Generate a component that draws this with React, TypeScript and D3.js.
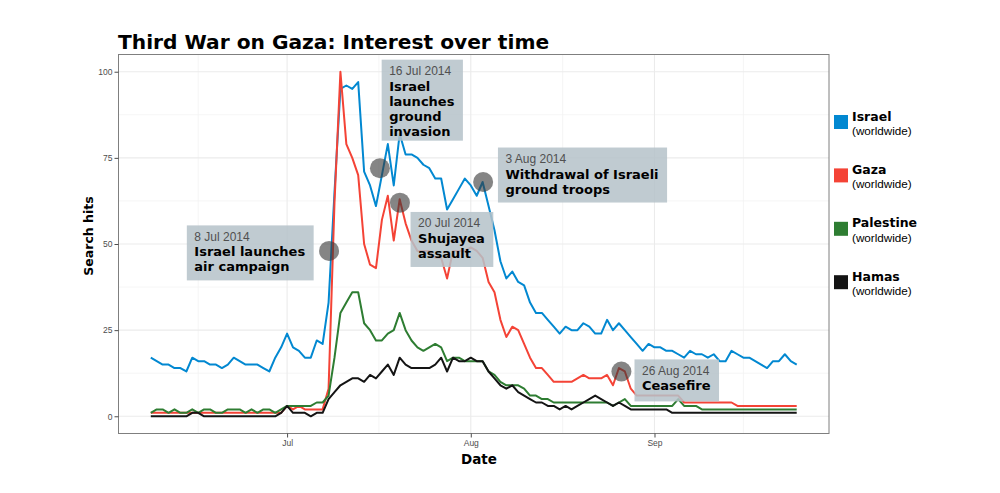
import { useEffect, useRef } from "react";
import * as d3 from "d3";

// daily search interest, 8 Jun 2014 .. 25 Sep 2014
const firstDay = "2014-06-08";
const lastDay = "2014-09-25";

const israel = [
  17, 16, 15, 15, 14, 14, 13, 17, 16, 16, 15, 15, 14, 15, 17, 16, 15, 15, 15, 14, 13, 17, 20,
  24,
  20, 19, 17, 17, 22, 21, 33, 65,
  95, 96, 95, 97, 71, 67, 61, 70, 79, 67, 82,
  76, 76, 75, 73, 72, 69, 69, 60, 63, 66, 69, 67, 64,
  68, 61, 54, 45, 40, 42, 39, 38, 33, 30, 30, 28, 26,
  24, 26, 25, 25, 27, 26, 24, 24, 28, 25, 27, 25, 23, 21,
  19, 21, 20, 20, 19, 19, 18, 17, 19, 18, 18, 17, 18, 16,
  16, 19, 18, 17, 17, 16, 15, 14, 16, 16, 18, 16, 15,
];
const gaza = [
  1, 1, 1, 1, 1, 1, 1, 1, 1, 1, 1, 1, 1, 1, 1, 1, 1, 1, 1, 1, 1, 1, 1,
  3,
  2, 3, 2, 2, 2, 2, 8, 62,
  100, 79, 75, 70, 50, 44, 43, 57, 64, 51, 63,
  56, 51, 48, 48, 48, 46, 46, 40, 48, 48, 48, 49, 48,
  46, 39, 36, 28, 23, 26, 25, 21, 17, 14, 14, 12, 10,
  10, 10, 10, 11, 12, 11, 11, 11, 12, 9, 14, 13, 8, 6,
  6, 6, 6, 6, 6, 6, 6, 4, 4, 4, 4, 4, 4, 4,
  4, 4, 3, 3, 3, 3, 3, 3, 3, 3, 3, 3, 3,
];
const palestine = [
  1, 2, 2, 1, 2, 1, 1, 2, 1, 2, 2, 1, 1, 2, 2, 2, 1, 2, 1, 2, 2, 1, 2,
  3,
  3, 3, 3, 3, 4, 4, 6, 17,
  30, 33, 36, 36, 27, 25, 22, 22, 24, 25, 30,
  25, 22, 20, 19, 20, 21, 20, 16, 17, 17, 16, 16, 16,
  16, 13, 12, 10, 9, 9, 9, 8, 6, 6, 5, 5, 4,
  4, 4, 4, 4, 4, 4, 4, 4, 4, 3, 4, 5, 3, 3,
  3, 3, 3, 3, 3, 3, 5, 3, 3, 3, 2, 2, 2, 2,
  2, 2, 2, 2, 2, 2, 2, 2, 2, 2, 2, 2, 2,
];
const hamas = [
  0, 0, 0, 0, 0, 0, 0, 1, 1, 0, 0, 0, 0, 0, 0, 0, 0, 0, 0, 0, 0, 0, 1,
  3,
  1, 1, 1, 0, 1, 1, 5, 7,
  9, 10, 11, 11, 10, 12, 11, 13, 15, 12, 17,
  15, 14, 14, 14, 14, 15, 17, 13, 17, 16, 16, 17, 16,
  16, 13, 11, 9, 8, 9, 7, 6, 5, 4, 4, 3, 3,
  2, 3, 2, 3, 4, 5, 6, 5, 4, 3, 4, 3, 2, 2,
  2, 2, 2, 2, 2, 1, 1, 1, 1, 1, 1, 1, 1, 1,
  1, 1, 1, 1, 1, 1, 1, 1, 1, 1, 1, 1, 1,
];

const seriesNames = ["Israel", "Gaza", "Palestine", "Hamas"];
const seriesValues = [israel, gaza, palestine, hamas];
const seriesColors = ["#0288d1", "#f44336", "#2e7d32", "#141414"];

const yTicks = [0, 25, 50, 75, 100];
const monthTicks = ["2014-07-01", "2014-08-01", "2014-09-01"];
const monthLabels = ["Jul", "Aug", "Sep"];

// event markers (date + value on the curve) and label boxes (top-left, data space)
const eventDates = ["2014-07-08T02:00", "2014-07-16T16:00", "2014-07-20T01:00", "2014-08-03T02:00", "2014-08-26T10:00"];
const eventValues = [48, 72, 62, 68, 13];
const eventTitles = ["8 Jul 2014", "16 Jul 2014", "20 Jul 2014", "3 Aug 2014", "26 Aug 2014"];
const eventTexts = [
  ["Israel launches", "air campaign"],
  ["Israel", "launches", "ground", "invasion"],
  ["Shujayea", "assault"],
  ["Withdrawal of Israeli", "ground troops"],
  ["Ceasefire"],
];
const labelDates = ["2014-06-14T02:00", "2014-07-16T23:00", "2014-07-21T20:00", "2014-08-05T14:00", "2014-08-28T15:00"];
const labelValues = [55.4, 103.5, 59.3, 78, 16.5];

const W = 1000;
const H = 493;
const margin = { top: 54.5, right: 171, bottom: 59.5, left: 118.5 };
const BOLD = "'DejaVu Sans', sans-serif";
const PLAIN = "'Liberation Sans', Arial, sans-serif";

export default function App() {
  const ref = useRef<SVGSVGElement>(null);

  useEffect(() => {
    document.body.style.margin = "0";
    const svg = d3.select(ref.current);
    svg.selectAll("*").remove();

    const parseDay = d3.timeParse("%Y-%m-%d");
    const parseTime = d3.timeParse("%Y-%m-%dT%H:%M");
    const start = parseDay(firstDay)!;
    const end = parseDay(lastDay)!;
    const days = d3.timeDay.range(start, d3.timeDay.offset(end, 1));
    const span = +end - +start;

    const x = d3
      .scaleTime()
      .domain([new Date(+start - span * 0.05), new Date(+end + span * 0.05)])
      .range([margin.left, W - margin.right]);
    const y = d3
      .scaleLinear()
      .domain([-5, 105])
      .range([H - margin.bottom, margin.top]);

    svg.append("rect").attr("width", W).attr("height", H).attr("fill", "#fff");

    // title
    svg
      .append("text")
      .text("Third War on Gaza: Interest over time")
      .attr("x", 118)
      .attr("y", 49)
      .attr("font-family", BOLD)
      .attr("font-weight", "bold")
      .attr("font-size", 20.2)
      .attr("fill", "#000");

    const panel = svg.append("g");
    panel
      .append("rect")
      .attr("x", margin.left)
      .attr("y", margin.top)
      .attr("width", W - margin.left - margin.right)
      .attr("height", H - margin.top - margin.bottom)
      .attr("fill", "#fff");

    // grid
    const monthDates = monthTicks.map((m) => parseDay(m)!);
    const monthEdges = d3.timeMonth.range(d3.timeMonth.floor(start), d3.timeMonth.offset(d3.timeMonth.floor(end), 2));
    const minorX = d3
      .pairs(monthEdges)
      .map(([a, b]) => new Date((+a + +b) / 2))
      .filter((d) => d >= x.domain()[0] && d <= x.domain()[1]);
    const minorY = d3.pairs(yTicks).map(([a, b]) => (a + b) / 2);

    const grid = panel.append("g");
    grid
      .selectAll("line.mx")
      .data(minorX)
      .join("line")
      .attr("x1", (d) => x(d))
      .attr("x2", (d) => x(d))
      .attr("y1", margin.top)
      .attr("y2", H - margin.bottom)
      .attr("stroke", "#f2f2f2")
      .attr("stroke-width", 0.8);
    grid
      .selectAll("line.my")
      .data(minorY)
      .join("line")
      .attr("x1", margin.left)
      .attr("x2", W - margin.right)
      .attr("y1", (d) => y(d))
      .attr("y2", (d) => y(d))
      .attr("stroke", "#f2f2f2")
      .attr("stroke-width", 0.8);
    grid
      .selectAll("line.Mx")
      .data(monthDates)
      .join("line")
      .attr("x1", (d) => x(d))
      .attr("x2", (d) => x(d))
      .attr("y1", margin.top)
      .attr("y2", H - margin.bottom)
      .attr("stroke", "#ebebeb")
      .attr("stroke-width", 1.1);
    grid
      .selectAll("line.My")
      .data(yTicks)
      .join("line")
      .attr("x1", margin.left)
      .attr("x2", W - margin.right)
      .attr("y1", (d) => y(d))
      .attr("y2", (d) => y(d))
      .attr("stroke", "#ebebeb")
      .attr("stroke-width", 1.1);

    // series lines
    const line = d3
      .line<number>()
      .x((_, i) => x(days[i]))
      .y((v) => y(v));
    panel
      .append("g")
      .selectAll("path")
      .data(seriesValues)
      .join("path")
      .attr("d", (d) => line(d))
      .attr("fill", "none")
      .attr("stroke", (_, i) => seriesColors[i])
      .attr("stroke-width", 2)
      .attr("stroke-linejoin", "round");

    // event markers
    panel
      .append("g")
      .selectAll("circle")
      .data(eventDates)
      .join("circle")
      .attr("cx", (d) => x(parseTime(d)!))
      .attr("cy", (_, i) => y(eventValues[i]))
      .attr("r", 10)
      .attr("fill", "#3a3a3a")
      .attr("fill-opacity", 0.62);

    // label boxes
    eventTitles.forEach((title, i) => {
      const bx = x(parseTime(labelDates[i])!);
      const by = y(labelValues[i]);
      const g = panel.append("g");
      const rect = g.append("rect").attr("fill", "rgb(182,194,201)").attr("fill-opacity", 0.86);
      const t0 = g
        .append("text")
        .text(title)
        .attr("x", bx + 7.5)
        .attr("y", by + 15.5)
        .attr("font-family", PLAIN)
        .attr("font-size", 12)
        .attr("fill", "#505050");
      let maxW = (t0.node() as SVGTextElement).getComputedTextLength();
      eventTexts[i].forEach((s, k) => {
        const t = g
          .append("text")
          .text(s)
          .attr("x", bx + 7.5)
          .attr("y", by + 31 + k * 15)
          .attr("font-family", BOLD)
          .attr("font-weight", "bold")
          .attr("font-size", 13)
          .attr("fill", "#000");
        maxW = Math.max(maxW, (t.node() as SVGTextElement).getComputedTextLength());
      });
      rect
        .attr("x", bx)
        .attr("y", by)
        .attr("width", maxW + 16)
        .attr("height", 29 + eventTexts[i].length * 13);
    });

    // panel border
    panel
      .append("rect")
      .attr("x", margin.left)
      .attr("y", margin.top)
      .attr("width", W - margin.left - margin.right)
      .attr("height", H - margin.top - margin.bottom)
      .attr("fill", "none")
      .attr("stroke", "#7f7f7f")
      .attr("stroke-width", 1);

    // axes
    const yAxis = svg
      .append("g")
      .attr("transform", `translate(${margin.left},0)`)
      .call(d3.axisLeft(y).tickValues(yTicks).tickSize(4).tickPadding(2));
    const xAxis = svg
      .append("g")
      .attr("transform", `translate(0,${H - margin.bottom})`)
      .call(
        d3
          .axisBottom(x)
          .tickValues(monthDates)
          .tickFormat((_, i) => monthLabels[i])
          .tickSize(4)
          .tickPadding(2)
      );
    [yAxis, xAxis].forEach((a) => {
      a.select(".domain").remove();
      a.selectAll(".tick line").attr("stroke", "#4d4d4d");
      a.selectAll(".tick text")
        .attr("fill", "#4d4d4d")
        .attr("font-family", PLAIN)
        .attr("font-size", 8.5);
    });

    // axis titles
    svg
      .append("text")
      .text("Date")
      .attr("x", 479)
      .attr("y", 464)
      .attr("text-anchor", "middle")
      .attr("font-family", BOLD)
      .attr("font-weight", "bold")
      .attr("font-size", 13.5);
    svg
      .append("text")
      .text("Search hits")
      .attr("transform", `translate(93,236) rotate(-90)`)
      .attr("text-anchor", "middle")
      .attr("font-family", BOLD)
      .attr("font-weight", "bold")
      .attr("font-size", 12.5);

    // legend
    const legend = svg.append("g").attr("transform", "translate(834,115)");
    seriesNames.forEach((name, i) => {
      const row = legend.append("g").attr("transform", `translate(0,${i * 53.4})`);
      row.append("rect").attr("width", 14).attr("height", 14).attr("fill", seriesColors[i]);
      row
        .append("text")
        .text(name)
        .attr("x", 18)
        .attr("y", 5.5)
        .attr("font-family", BOLD)
        .attr("font-weight", "bold")
        .attr("font-size", 12.5);
      row
        .append("text")
        .text("(worldwide)")
        .attr("x", 18)
        .attr("y", 20)
        .attr("font-family", PLAIN)
        .attr("font-size", 11.7);
    });
  }, []);

  return <svg ref={ref} width={W} height={H} style={{ display: "block" }} />;
}
